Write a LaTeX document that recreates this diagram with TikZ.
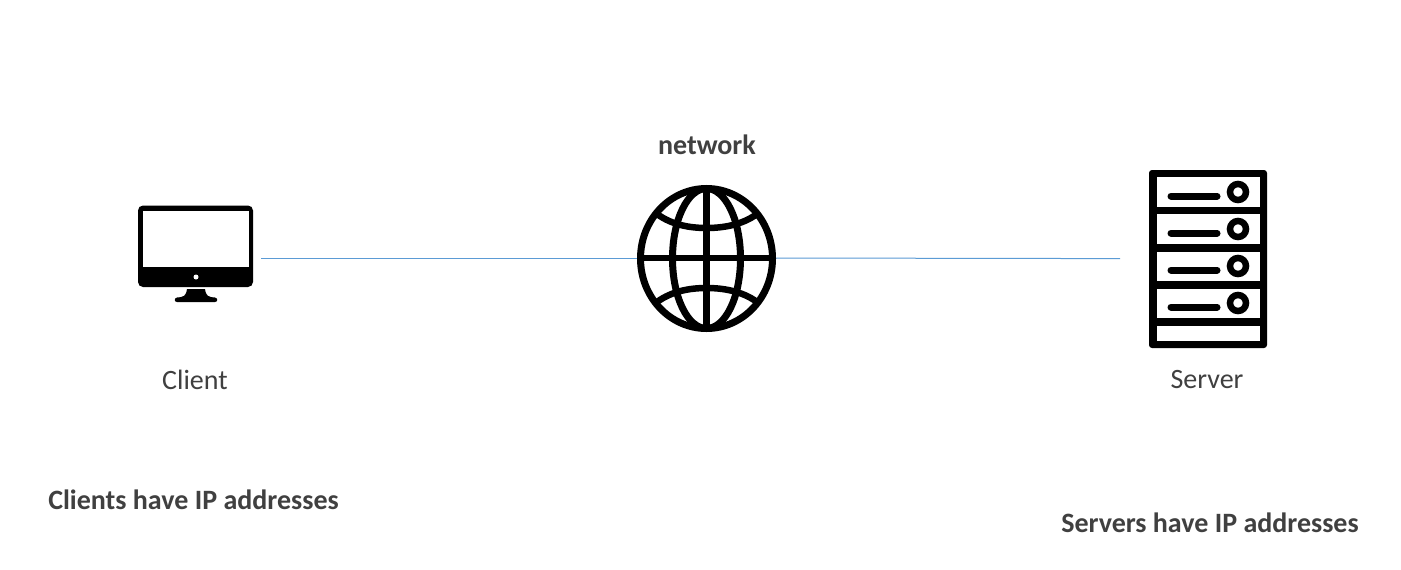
\documentclass[tikz,border=0pt]{standalone}
\usepackage{fontspec}
\setmainfont{Carlito}
\definecolor{txt}{HTML}{404040}
\definecolor{link}{HTML}{5B9BD5}
\tikzset{
  px/.style={x=1pt,y=-1pt},
  label/.style={text=txt,font=\fontsize{28}{32}\selectfont,inner sep=0pt,anchor=center},
  boldlabel/.style={text=txt,font=\fontsize{28}{32}\selectfont\bfseries,inner sep=0pt,anchor=center},
  wire/.style={draw=link,line width=1pt},
  ink/.style={draw=black,line width=7pt},
  thinink/.style={draw=black,line width=6.5pt},
}
\begin{document}
\begin{tikzpicture}[px]
\useasboundingbox (0,0) rectangle (1401,570);
\fill[white] (0,0) rectangle (1401,570);
% anchors for connectors
\coordinate (clientport) at (261,258);
\coordinate (globeW) at (640,258);
\coordinate (globeE) at (772,258);
\coordinate (serverport) at (1120,258.6);
\draw[wire] (clientport) -- (globeW);
\draw[wire] (globeE) -- (serverport);
% monitor
\fill[black,rounded corners=5pt] (138,205.5) rectangle (253,287);
\fill[white] (142.5,211) rectangle (249,267);
\fill[white] (196,277) circle (2.5);
\fill[black] (187,289) -- (205,289) .. controls (206,296) and (208,297) .. (215,297.5)
  .. controls (218,298) and (218,302) .. (215,302) -- (177,302)
  .. controls (174,302) and (174,298) .. (177,297.5)
  .. controls (184,297) and (186,296) .. (187,289) -- cycle;
% globe
\draw[ink] (706.5,258.5) ellipse (66 and 70);
\draw[ink] (706.5,258.5) ellipse (34 and 70);
\draw[ink] (706.5,188) -- (706.5,329);
\draw[thinink] (640,258) -- (773,258);
\draw[thinink] (657,214) .. controls (672,225) and (690,228) .. (706.5,228) .. controls (723,228) and (742,225) .. (757,214);
\draw[thinink] (657,302) .. controls (672,291) and (690,288) .. (706.5,288) .. controls (723,288) and (742,291) .. (757,302);
% server
\fill[black,rounded corners=3pt] (1149,170) rectangle (1267,348);
\fill[white] (1157,177) rectangle (1260,207);
\fill[white] (1157,214) rectangle (1260,244);
\fill[white] (1157,251.5) rectangle (1260,281);
\fill[white] (1157,289) rectangle (1260,318);
\fill[white] (1157,326) rectangle (1260,341);
\foreach \ly/\cy in {196/192,233/229,270/266,307/303}{
  \draw[black,line width=7pt,line cap=round] (1171,\ly) -- (1217,\ly);
  \draw[black,line width=6.5pt] (1238,\cy) circle (8);
}
% labels
\node[boldlabel] (network) at (707,145) {network};
\node[label] (client) at (195,380) {Client};
\node[label] (server) at (1207,380) {Server};
\node[boldlabel] (clientsip) at (193.5,500) {Clients have IP addresses};
\node[boldlabel] (serversip) at (1210,523) {Servers have IP addresses};
\end{tikzpicture}
\end{document}
